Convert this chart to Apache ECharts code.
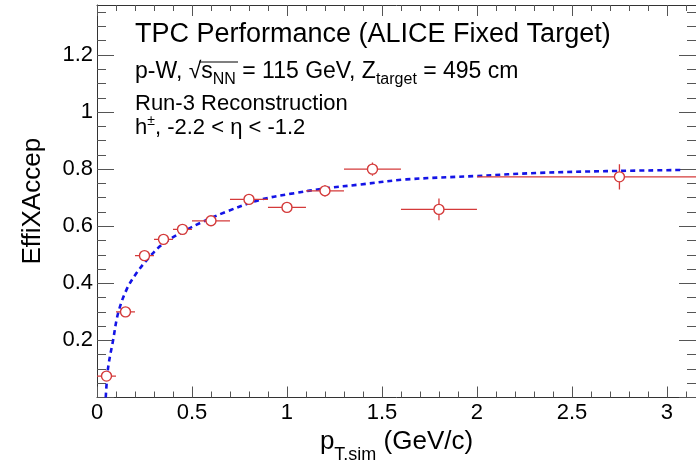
<!DOCTYPE html>
<html>
<head>
<meta charset="utf-8">
<script src="https://cdn.jsdelivr.net/npm/echarts@6/dist/echarts.min.js"></script>
<style>html,body{margin:0;padding:0;background:#fff}#c{width:696px;height:460px}</style>
</head>
<body>
<div id="c"></div>
<script>
// ---- data ----
const binLow   = [0.0, 0.1, 0.2, 0.3, 0.4, 0.5, 0.7, 0.9, 1.1, 1.3, 1.6, 2.0];
const binHigh  = [0.1, 0.2, 0.3, 0.4, 0.5, 0.7, 0.9, 1.1, 1.3, 1.6, 2.0, 3.5];
const ptCenter = [0.05, 0.15, 0.25, 0.35, 0.45, 0.6, 0.8, 1.0, 1.2, 1.45, 1.8, 2.75];
const effValues = [0.075, 0.300, 0.497, 0.554, 0.589, 0.619, 0.694, 0.666, 0.724, 0.800, 0.659, 0.773];
const effErrors = [0.004, 0.006, 0.006, 0.006, 0.006, 0.006, 0.008, 0.008, 0.020, 0.023, 0.038, 0.044];

const fitPt  = [0.046, 0.058, 0.084, 0.111, 0.155, 0.207, 0.277, 0.347, 0.453, 0.558, 0.681, 0.856, 1.032, 1.207, 1.383, 1.628, 1.997, 2.33, 2.681, 3.075];
const fitEff = [0.0, 0.102, 0.198, 0.295, 0.377, 0.435, 0.493, 0.538, 0.581, 0.616, 0.651, 0.692, 0.715, 0.733, 0.746, 0.764, 0.776, 0.787, 0.793, 0.797];

const xMajorTicks = [0, 0.5, 1, 1.5, 2, 2.5, 3];
const xMinorTicks = [0.1, 0.2, 0.3, 0.4, 0.6, 0.7, 0.8, 0.9, 1.1, 1.2, 1.3, 1.4, 1.6, 1.7, 1.8, 1.9, 2.1, 2.2, 2.3, 2.4, 2.6, 2.7, 2.8, 2.9, 3.1];
const yMajorTicks = [0, 0.2, 0.4, 0.6, 0.8, 1, 1.2];
const yLabelTicks = [0.2, 0.4, 0.6, 0.8, 1, 1.2];
const yMinorTicks = [0.05, 0.1, 0.15, 0.25, 0.3, 0.35, 0.45, 0.5, 0.55, 0.65, 0.7, 0.75, 0.85, 0.9, 0.95, 1.05, 1.1, 1.15, 1.25, 1.3, 1.35];

const X_MIN = 0, X_MAX = 3.153, Y_MIN = 0, Y_MAX = 1.375;
const FONT = '"Liberation Sans", Arial, Helvetica, sans-serif';
const RED = '#d43a3a', BLUE = '#1414e6', AX = '#333', TK = '#555';

const chart = echarts.init(document.getElementById('c'), null, {renderer: 'canvas'});

function axisDef(kind, pos, ticks, len, showLine, labels, extra) {
  return Object.assign({
    type: 'value', position: pos, offset: 0,
    min: kind === 'x' ? X_MIN : Y_MIN, max: kind === 'x' ? X_MAX : Y_MAX,
    axisLine: {show: showLine, onZero: false, lineStyle: {color: AX, width: 1}},
    axisTick: {show: true, inside: true, length: len, customValues: ticks, lineStyle: {color: TK, width: 1}},
    axisLabel: labels ? {show: true, inside: false, customValues: labels, margin: 4, color: '#000', fontSize: 22, fontFamily: FONT,
      formatter: v => String(v)} : {show: false},
    splitLine: {show: false}
  }, extra || {});
}

const option = {
  animation: false,
  backgroundColor: '#fff',
  grid: {left: 97, right: 0, top: 5, bottom: 62.5, containLabel: false, outerBoundsMode: 'none'},
  xAxis: [
    axisDef('x', 'bottom', xMajorTicks, 11, true, xMajorTicks, {
      name: '{m|p}{s|T.sim}{m| (GeV/c)}', nameLocation: 'middle', nameGap: 19,
      nameTextStyle: {fontFamily: FONT, color: '#000', rich: {
        m: {fontSize: 26, fontFamily: FONT, color: '#000'},
        s: {fontSize: 18, fontFamily: FONT, color: '#000', padding: [28, 0, 0, 0]}
      }}
    }),
    axisDef('x', 'bottom', xMinorTicks, 6, false, null),
    axisDef('x', 'top', xMajorTicks, 11, true, null),
    axisDef('x', 'top', xMinorTicks, 6, false, null)
  ],
  yAxis: [
    axisDef('y', 'left', yMajorTicks, 17, true, yLabelTicks, {
      name: 'EffiXAccep', nameLocation: 'middle', nameGap: 51,
      nameTextStyle: {fontFamily: FONT, fontSize: 26, color: '#000'}
    }),
    axisDef('y', 'left', yMinorTicks, 9, false, null),
    axisDef('y', 'right', yMajorTicks, 17, true, null),
    axisDef('y', 'right', yMinorTicks, 9, false, null)
  ],
  series: [
    {
      type: 'line', name: 'fit', xAxisIndex: 0, yAxisIndex: 0,
      data: fitPt.map((x, i) => [x, fitEff[i]]),
      smooth: 0.35, showSymbol: false, symbol: 'none', clip: true,
      lineStyle: {color: BLUE, width: 2.6, type: [5, 4]}, z: 3
    },
    {
      type: 'custom', name: 'errors', xAxisIndex: 0, yAxisIndex: 0, clip: true,
      data: ptCenter.map((x, i) => [x, effValues[i], binLow[i], binHigh[i], effErrors[i]]),
      renderItem: function (params, api) {
        const x = api.value(0), y = api.value(1);
        const pL = api.coord([api.value(2), y]);
        const pR = api.coord([api.value(3), y]);
        const pT = api.coord([x, y + api.value(4)]);
        const pB = api.coord([x, y - api.value(4)]);
        const st = {stroke: RED, lineWidth: 1.3, fill: null};
        return {type: 'group', children: [
          {type: 'line', shape: {x1: pL[0], y1: pL[1], x2: pR[0], y2: pR[1]}, style: st},
          {type: 'line', shape: {x1: pT[0], y1: pT[1], x2: pB[0], y2: pB[1]}, style: st}
        ]};
      },
      z: 4
    },
    {
      type: 'scatter', name: 'eff', xAxisIndex: 0, yAxisIndex: 0,
      data: ptCenter.map((x, i) => [x, effValues[i]]),
      symbol: 'circle', symbolSize: 10,
      itemStyle: {color: '#fff', borderColor: RED, borderWidth: 1.4, opacity: 1},
      z: 5
    }
  ],
  graphic: [
    {type: 'text', left: 135, top: 21, style: {text: 'TPC Performance (ALICE Fixed Target)', font: '27px ' + FONT, fill: '#000'}},
    {type: 'text', left: 135, top: 60, style: {
      text: '{m|p-W, √}{m|s}{s|NN}{m| = 115 GeV, Z}{s|target}{m| = 495 cm}',
      rich: {
        m: {fontSize: 23, fontFamily: FONT, fill: '#000', color: '#000'},
        s: {fontSize: 16, fontFamily: FONT, fill: '#000', color: '#000', padding: [17, 0, 0, 0]}
      }
    }},
    {type: 'line', shape: {x1: 199, y1: 62, x2: 238, y2: 62}, style: {stroke: '#000', lineWidth: 1.2}},
    {type: 'text', left: 135, top: 93, style: {text: 'Run-3 Reconstruction', font: '22px ' + FONT, fill: '#000'}},
    {type: 'text', left: 135, top: 114, style: {
      text: '{m|h}{p|±}{m|, -2.2 < η < -1.2}',
      rich: {
        m: {fontSize: 22, fontFamily: FONT, fill: '#000', color: '#000'},
        p: {fontSize: 14, fontFamily: FONT, fill: '#000', color: '#000', padding: [0, 0, 14, 0]}
      }
    }}
  ]
};
chart.setOption(option);
</script>
</body>
</html>
